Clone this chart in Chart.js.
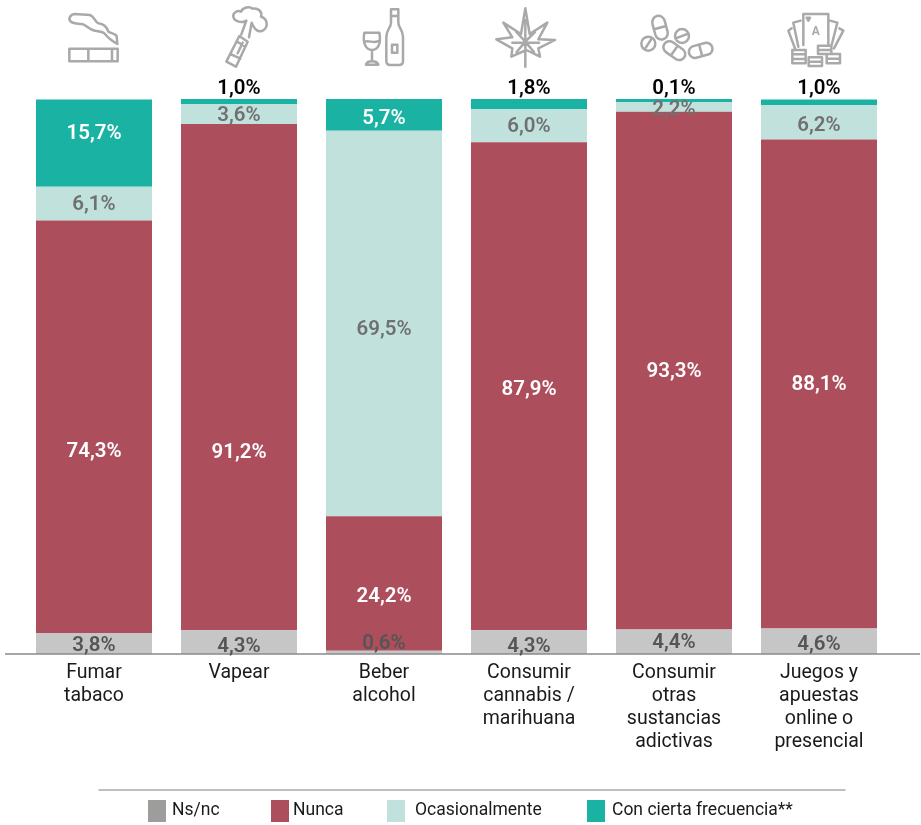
<!DOCTYPE html>
<html><head><meta charset="utf-8">
<style>html,body{margin:0;padding:0;background:#fff}canvas{display:block}#w{width:921px;height:825px;position:relative}</style>
<script src="https://cdn.jsdelivr.net/npm/chart.js@4"></script>
</head><body><div id="w"><canvas id="c"></canvas></div>
<script>
const categories=[["Fumar","tabaco"],["Vapear"],["Beber","alcohol"],["Consumir","cannabis /","marihuana"],["Consumir","otras","sustancias","adictivas"],["Juegos y","apuestas","online o","presencial"]];
const nsnc=[3.8,4.3,0.6,4.3,4.4,4.6];
const nunca=[74.3,91.2,24.2,87.9,93.3,88.1];
const ocasionalmente=[6.1,3.6,69.5,6.0,2.2,6.2];
const frecuencia=[15.7,1.0,5.7,1.8,0.1,1.0];
const seriesNames=["Ns/nc","Nunca","Ocasionalmente","Con cierta frecuencia**"];

const FONT='Roboto, sans-serif';
const nudges=[[0.5,3,-10,3,0,2],[24,74,11.5,2,0,-1],[0,0,4.5,0,3,2],[-11,-14,3,-17,-12,-15]];
const labelColors=['#555555','#ffffff','#707070','#ffffff'];
const fills=['#C6C6C6','#AD4E5C','#C1E2DC','#1AB2A3'];
const swatches=['#9D9D9C','#AD4E5C','#C1E2DC','#1AB2A3'];
const legendItems=[[148,172],[271,293],[387,415],[587,612]];

function pill(p,cx,cy,len,w,deg){
  const a=deg*Math.PI/180,c=Math.cos(a),s=Math.sin(a),h=(len-w)/2,r=w/2;
  p.moveTo(cx+c*h-s*-r,cy+s*h+c*-r);
  p.arc(cx+c*h,cy+s*h,r,a-Math.PI/2,a+Math.PI/2);
  p.lineTo(cx-c*h-s*r,cy-s*h+c*r);
  p.arc(cx-c*h,cy-s*h,r,a+Math.PI/2,a+3*Math.PI/2);
  p.closePath();
  p.moveTo(cx-s*-r,cy+c*-r);p.lineTo(cx-s*r,cy+c*r);
}
const iconDefs=[
 {ox:40,anchor:94,d:"M88 146H233V184H88ZM145 146V184M216 146V184M232 132L230 108C225 100 212 100 205 95C200 80 190 72 175 70C165 68 165 50 150 45L105 42C92 42 85 55 90 62C95 72 110 70 125 72C140 74 145 88 165 92C180 95 190 95 195 102C205 115 215 122 232 132"},
 {ox:40,anchor:238,d:"M595 108L620 125L585 200L556 185ZM590 126L613 140M568 162L598 176M605 128L590 160M601 103L616 62M624 112L632 68M616 62C600 72 578 62 577 50C575 38 590 30 600 35C606 22 625 18 635 26C650 22 665 35 660 50C680 55 682 80 668 90C655 100 640 90 632 68"},
 {ox:40,anchor:383,d:"M970 98H1015C1021 130 1012 150 993 150C975 150 964 130 970 98ZM970 125C985 120 1000 132 1016 122M993 150V180M975 194C978 180 1008 180 1012 194ZM1050 28H1072V68C1072 82 1086 90 1086 110V183Q1086 195 1074 195H1048Q1036 195 1036 183V110C1036 90 1050 82 1050 68ZM1050 48H1072M1036 138V134M1036 150V146M1053 134H1069V158H1053Z"},
 {ox:480,anchor:530,d:"M139 25L152 102L205 68L178 118L228 120L178 145L183 170L142 150L97 170L100 145L52 118L100 112L73 68L126 102ZM139 60V200M100 128H180M139 125L112 96M139 125L168 96M139 125L113 156M139 125L165 156"},
 {ox:480,anchor:674,pills:[[540,83,72,38,75],[583,152,72,36,35],[662,151,72,36,-15]],d:"M526 131A21 21 0 1 1 484 131A21 21 0 1 1 526 131M494 148L516 114M627 108A21 21 0 1 1 585 108A21 21 0 1 1 627 108M587 115L625 101"},
 {ox:480,anchor:819,d:"M970 135V42H1045V135M962 62L940 68L955 140M935 85L925 92L945 145M1050 62L1072 68L1055 135M1078 85L1090 92L1062 145M937 150H977V190H937ZM937 163H977M937 177H977M986 172H1026V198H986ZM986 185H1026M1040 162H1080V190H1040ZM1040 176H1080M1014 137H1054V162H1014ZM1014 150H1054M980 53L990 53L985 62Z"}
];
const plugin={id:'deco',
 afterDatasetsDraw(ch){
  const ctx=ch.ctx,x=ch.scales.x,area=ch.chartArea;
  ctx.save();
  // keep hairline top segments visible as a thin sliver at the top of their bar
  ch.getDatasetMeta(3).data.forEach(el=>{
    if(Math.abs(el.base-el.y)<3){ctx.fillStyle=fills[3];ctx.fillRect(el.x-el.width/2,area.top,el.width,3);}
  });
  // axis line
  ctx.strokeStyle='#8A8A8A';ctx.lineWidth=1.5;
  ctx.beginPath();ctx.moveTo(5,area.bottom);ctx.lineTo(920,area.bottom);ctx.stroke();
  // value labels
  ctx.textAlign='center';ctx.textBaseline='middle';
  ctx.font='600 20.5px '+FONT;
  ch.data.datasets.forEach((ds,di)=>{
    ch.getDatasetMeta(di).data.forEach((el,i)=>{
      const v=ds.data[i];
      const yc=(el.y+el.base)/2+nudges[di][i]+1.5;
      ctx.fillStyle=(di===3&&v<2)?'#000000':labelColors[di];
      ctx.fillText(v.toFixed(1).replace('.',',')+'%',el.x,yc);
    });
  });
  // icons
  ctx.strokeStyle='#A9A9A9';ctx.lineJoin='round';ctx.lineCap='round';
  iconDefs.forEach((ic,i)=>{
    ctx.save();
    ctx.translate(x.getPixelForValue(i)-ic.anchor+ic.ox,0);
    ctx.scale(1/3,1/3);ctx.lineWidth=7.5;
    const p=new Path2D(ic.d);
    if(ic.pills){const q=new Path2D();ic.pills.forEach(a=>pill(q,...a));p.addPath(q);}
    ctx.stroke(p);
    if(i===5){ctx.fillStyle='#A9A9A9';ctx.font='700 36px '+FONT;ctx.fillText('A',1007,97);}
    ctx.restore();
  });
  // legend
  ctx.strokeStyle='#ABABAB';ctx.lineWidth=1.5;
  ctx.beginPath();ctx.moveTo(99,790);ctx.lineTo(845,790);ctx.stroke();
  ctx.font='400 17.5px '+FONT;ctx.textAlign='left';
  seriesNames.forEach((n,i)=>{
    ctx.fillStyle=swatches[i];ctx.fillRect(legendItems[i][0],800,18,22);
    ctx.fillStyle='#1A1A1A';ctx.fillText(n,legendItems[i][1],811);
  });
  ctx.restore();
 }
};
const ds=[nsnc,nunca,ocasionalmente,frecuencia].map((d,i)=>({label:seriesNames[i],data:d,backgroundColor:fills[i],borderWidth:0,barPercentage:0.8,categoryPercentage:1}));
new Chart(document.getElementById('c'),{type:'bar',data:{labels:categories,datasets:ds},plugins:[plugin],
 options:{responsive:true,maintainAspectRatio:false,animation:false,
  layout:{padding:{left:21.5,right:29.5,top:99,bottom:0}},
  plugins:{legend:{display:false},tooltip:{enabled:false}},
  scales:{
   x:{stacked:true,grid:{display:false},border:{display:false},
      afterFit(s){s.height=171;},
      ticks:{autoSkip:false,maxRotation:0,minRotation:0,padding:0,color:'#1A1A1A',font:{family:FONT,size:19.5,lineHeight:'23px'}}},
   y:{stacked:true,display:false,min:0,max:100}
  }}});
</script></body></html>
